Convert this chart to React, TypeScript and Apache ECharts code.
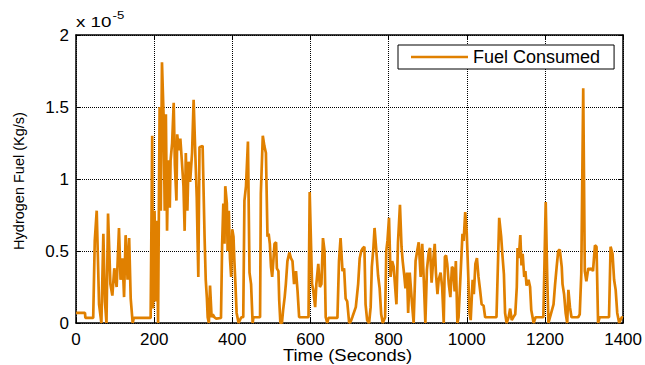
import React, { useEffect, useRef } from "react";
import * as echarts from "echarts";

// Time in seconds
const timeSec: number[] = [
  0, 23, 24, 44, 48, 53, 59, 65, 70, 74, 78, 82, 88, 93, 98, 104, 110, 114, 119, 123, 127, 132, 136, 140, 145, 148, 191,
  195, 197, 201, 204, 207, 210, 214, 217, 220, 224, 227, 230, 233, 236, 240, 242, 246, 250, 253, 257, 259, 263, 267, 271,
  275, 278, 281, 285, 288, 292, 297, 301, 305, 309, 313, 316, 324, 329, 332, 335, 337, 340, 343, 347, 350, 354, 359, 371,
  374, 377, 380, 382, 386, 388, 391, 394, 397, 400, 403, 405, 408, 411, 416, 423, 428, 431, 435, 440, 444, 448, 452, 454,
  471, 473, 478, 482, 486, 490, 493, 496, 499, 502, 505, 508, 512, 514, 518, 520, 523, 527, 530, 534, 537, 541, 546, 550,
  554, 558, 563, 567, 571, 595, 598, 604, 607, 612, 615, 620, 624, 628, 632, 636, 639, 643, 646, 669, 673, 677, 682, 686,
  690, 694, 699, 703, 707, 716, 722, 726, 730, 734, 738, 741, 745, 750, 754, 757, 761, 764, 768, 773, 777, 781, 785, 791,
  794, 797, 801, 805, 809, 813, 818, 820, 824, 829, 833, 836, 840, 843, 847, 850, 854, 857, 860, 864, 869, 873, 877, 882,
  886, 890, 894, 898, 903, 906, 910, 914, 918, 921, 925, 928, 933, 937, 941, 944, 947, 950, 954, 958, 962, 965, 969, 972,
  976, 979, 985, 989, 992, 996, 1000, 1003, 1007, 1010, 1015, 1018, 1022, 1026, 1030, 1034, 1038, 1043, 1047, 1076, 1083,
  1088, 1091, 1095, 1098, 1102, 1107, 1111, 1115, 1119, 1124, 1128, 1130, 1133, 1137, 1140, 1143, 1147, 1150, 1153, 1158,
  1162, 1165, 1171, 1176, 1196, 1202, 1206, 1209, 1213, 1222, 1226, 1230, 1234, 1238, 1243, 1245, 1249, 1253, 1257, 1260,
  1264, 1268, 1285, 1289, 1293, 1298, 1302, 1306, 1311, 1315, 1319, 1323, 1328, 1332, 1336, 1340, 1364, 1368, 1373, 1377,
  1381, 1385, 1390, 1393, 1397, 1400,
];

// Hydrogen fuel consumed, in units of 1e-5 kg/s
const fuelE5: number[] = [
  0.07, 0.07, 0.035, 0.035, 0.57, 0.78, 0.13, 0, 0.62, 0.15, 0, 0.76, 0.27, 0.19, 0.38, 0.25, 0.66, 0.3, 0.45, 0.18, 0.61, 0.3, 0.59, 0.17, 0, 0.035, 0.035,
  1.3, 0.1, 0.78, 0.15, 0.71, 0, 1.5, 0.78, 1.81, 1.45, 0.78, 1.45, 0.64, 1.13, 0.8, 1.13, 1.25, 1.53, 1.1, 0.85, 1.31, 1.2, 1.28, 1.12,
  0.95, 0.64, 1.18, 0.78, 1.12, 0.98, 1.18, 1.55, 1.2, 0.87, 0.32, 1.22, 1.23, 0.6, 0.3, 0.17, 0.04, 0, 0.26, 0.04, 0.06, 0.04, 0.03, 0.035,
  0.55, 0.83, 0.55, 0.95, 0.83, 0.5, 0.78, 0.45, 0.32, 0.65, 0.6, 0.45, 0.27, 0.07, 0, 0.04, 0.04, 0.85, 0.95, 1.26, 0.35, 0.27, 0, 0.04,
  0.04, 0.9, 1.3, 1.23, 1.18, 0.6, 0.62, 0.55, 0.39, 0.32, 0.43, 0.55, 0.56, 0.38, 0.36, 0.16, 0, 0, 0.09, 0.18, 0.27, 0.43, 0.49, 0.45,
  0.43, 0.27, 0.36, 0.22, 0.04, 0.04, 0.91, 0.27, 0.23, 0.11, 0.27, 0.41, 0.25, 0.27, 0.59, 0.5, 0.04, 0, 0.035, 0.035, 0.43, 0.59, 0.36, 0.38,
  0.17, 0.15, 0, 0.01, 0.04, 0.11, 0.27, 0.45, 0.5, 0.52, 0.53, 0.13, 0.02, 0, 0.11, 0.39, 0.52, 0.66, 0.52, 0.33, 0.24, 0.06, 0, 0.04,
  0.5, 0.57, 0.73, 0.32, 0.43, 0.39, 0.2, 0.13, 0.56, 0.82, 0.53, 0.43, 0.33, 0.24, 0.35, 0.07, 0.35, 0.24, 0.13, 0, 0.43, 0.5, 0.56, 0.32,
  0.55, 0.3, 0, 0.37, 0.5, 0.52, 0.28, 0.43, 0.55, 0.35, 0.2, 0.3, 0.35, 0.25, 0, 0.46, 0.47, 0.41, 0.27, 0.18, 0.39, 0.38, 0.22, 0.43,
  0, 0.04, 0.39, 0.62, 0.57, 0.77, 0.62, 0.39, 0.07, 0.02, 0.3, 0.2, 0.41, 0.45, 0.32, 0.23, 0.13, 0.12, 0.04, 0.04, 0.73,
  0.6, 0.48, 0.34, 0.07, 0, 0.04, 0.1, 0.02, 0.04, 0.06, 0.25, 0.52, 0.45, 0.61, 0.4, 0.48, 0.32, 0.36, 0.26, 0.3,
  0.25, 0.09, 0, 0.04, 0.04, 0.84, 0.3, 0, 0.04, 0.13, 0.27, 0.39, 0.5, 0.51, 0.39, 0.27, 0.2, 0.07, 0, 0.23,
  0.11, 0.04, 0.04, 0.06, 0.34, 1.63, 0.36, 0.29, 0.38, 0.37, 0.38, 0.36, 0.54, 0.53, 0, 0.04, 0.04, 0.53, 0.48, 0.3,
  0.23, 0.07, 0, 0.02, 0.04, 0.04,
];

const xTicks = { min: 0, max: 1400, interval: 200 };
const yTicks = { min: 0, max: 2, interval: 0.5 };

const seriesName = "Fuel Consumed";
const xTitle = "Time (Seconds)";
const yTitle = "Hydrogen Fuel (Kg/s)";
const exponentBase = "x 10";
const exponentPower = "-5";

const FONT = "'Liberation Sans', Arial, Helvetica, sans-serif";
const LINE_COLOR = "#E08000";

export default function App() {
  const ref = useRef<HTMLDivElement>(null);

  useEffect(() => {
    if (!ref.current) return;
    const chart = echarts.init(ref.current, undefined, { renderer: "svg" });
    const data = timeSec.map((t, i) => [t, fuelE5[i]]);

    const axisLineStyle = { color: "#000", width: 1.5 };
    const tickStyle = { color: "#000", width: 1 };
    const plain = (v: number) => String(v);

    const option: any = {
      animation: false,
      textStyle: { fontFamily: FONT },
      grid: { left: 76, top: 35, width: 549, height: 288, containLabel: false },
      legend: {
        show: true,
        left: 398,
        top: 45,
        orient: "horizontal",
        backgroundColor: "#fff",
        borderColor: "#000",
        borderWidth: 1,
        borderRadius: 0,
        padding: [3, 14, 3, 13],
        itemWidth: 57,
        itemHeight: 2.5,
        icon: "rect",
        textStyle: { fontSize: 18, color: "#000", fontFamily: FONT, lineHeight: 18 },
        data: [seriesName],
      },
      xAxis: [
        {
          type: "value",
          position: "bottom",
          ...xTicks,
          axisLine: { show: true, onZero: false, lineStyle: axisLineStyle },
          axisTick: { show: true, inside: true, length: 5, lineStyle: tickStyle },
          axisLabel: { show: true, color: "#000", fontSize: 17, margin: 8, fontFamily: FONT, formatter: plain },
          splitLine: { show: true, lineStyle: { type: "dotted", color: "#000", width: 1 } },
        },
        {
          type: "value",
          position: "top",
          ...xTicks,
          axisLine: { show: true, onZero: false, lineStyle: axisLineStyle },
          axisTick: { show: true, inside: true, length: 5, lineStyle: tickStyle },
          axisLabel: { show: false },
          splitLine: { show: false },
        },
      ],
      yAxis: [
        {
          type: "value",
          position: "left",
          ...yTicks,
          axisLine: { show: true, onZero: false, lineStyle: axisLineStyle },
          axisTick: { show: true, inside: true, length: 5, lineStyle: tickStyle },
          axisLabel: { show: true, color: "#000", fontSize: 17, margin: 7, fontFamily: FONT, formatter: plain },
          splitLine: { show: true, lineStyle: { type: "dotted", color: "#000", width: 1 } },
        },
        {
          type: "value",
          position: "right",
          ...yTicks,
          axisLine: { show: true, onZero: false, lineStyle: axisLineStyle },
          axisTick: { show: true, inside: true, length: 5, lineStyle: tickStyle },
          axisLabel: { show: false },
          splitLine: { show: false },
        },
      ],
      series: [
        {
          name: seriesName,
          type: "line",
          xAxisIndex: 0,
          yAxisIndex: 0,
          data,
          symbol: "none",
          showSymbol: false,
          lineStyle: { color: LINE_COLOR, width: 2.7 },
          itemStyle: { color: LINE_COLOR },
          z: 3,
        },
      ],
      graphic: [
        {
          type: "text",
          x: 19,
          y: 181,
          rotation: Math.PI / 2,
          style: {
            text: yTitle,
            font: `14.5px ${FONT}`,
            fill: "#000",
            textAlign: "center",
            textVerticalAlign: "middle",
          },
        },
        {
          type: "text",
          x: 347.5,
          y: 355,
          scaleX: 1.15,
          style: {
            text: xTitle,
            font: `16px ${FONT}`,
            fill: "#000",
            textAlign: "center",
            textVerticalAlign: "middle",
          },
        },
        {
          type: "text",
          x: 76,
          y: 22.5,
          scaleX: 1.25,
          style: {
            text: exponentBase,
            font: `15px ${FONT}`,
            fill: "#000",
            textAlign: "left",
            textVerticalAlign: "middle",
          },
        },
        {
          type: "text",
          x: 112.5,
          y: 15,
          scaleX: 1.2,
          style: {
            text: exponentPower,
            font: `11px ${FONT}`,
            fill: "#000",
            textAlign: "left",
            textVerticalAlign: "middle",
          },
        },
      ],
    };

    chart.setOption(option);
    return () => {
      chart.dispose();
    };
  }, []);

  return (
    <div
      ref={ref}
      style={{ position: "absolute", left: 0, top: 0, width: 645, height: 365, background: "#fff" }}
    />
  );
}
